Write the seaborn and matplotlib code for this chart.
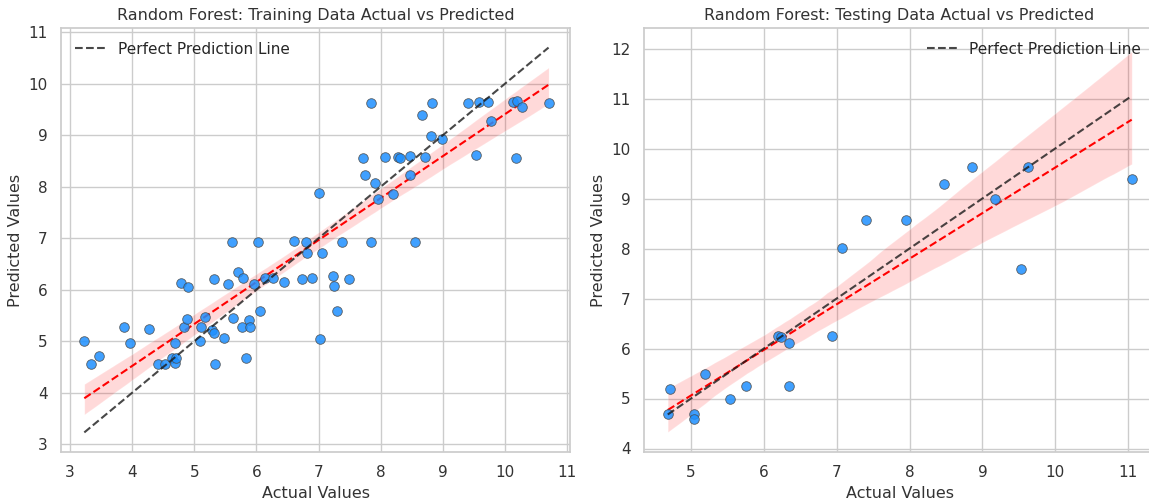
import numpy as np
import pandas as pd
import matplotlib
matplotlib.use("Agg")
import matplotlib.pyplot as plt
import seaborn as sns

# Training set: actual vs predicted
train_actual = [3.23, 3.34, 3.46, 3.87, 3.97, 4.27, 4.42, 4.53, 4.64, 4.69, 4.70, 4.69,
                4.79, 4.90, 4.84, 4.88, 5.09, 5.11, 5.18, 5.31, 5.29, 5.31, 5.34, 5.47,
                5.55, 5.60, 5.63, 5.71, 5.79, 5.77, 5.88, 5.90, 5.83, 5.96, 6.03, 6.06,
                6.14, 6.27, 6.44, 6.61, 6.73, 6.79, 6.81, 6.90, 7.05, 7.37, 7.85, 8.55,
                7.23, 7.25, 7.49, 7.29, 7.03, 7.85, 8.82, 9.40, 9.58, 9.73, 10.12, 10.20,
                10.27, 10.70, 8.67, 9.77, 8.81, 8.99, 7.72, 8.07, 8.27, 8.31, 8.47, 8.71,
                9.53, 10.17, 7.74, 7.91, 7.95, 8.20, 8.47, 7.00]
train_pred = [5.01, 4.56, 4.71, 5.28, 4.97, 5.24, 4.56, 4.56, 4.67, 4.57, 4.67, 4.97,
              6.13, 6.05, 5.28, 5.43, 5.01, 5.27, 5.47, 6.21, 5.22, 5.16, 4.56, 5.06,
              6.11, 6.93, 5.45, 6.34, 6.22, 5.28, 5.41, 5.28, 4.68, 6.11, 6.93, 5.58,
              6.22, 6.22, 6.15, 6.94, 6.21, 6.93, 6.71, 6.22, 6.71, 6.92, 6.93, 6.93,
              6.27, 6.07, 6.20, 5.58, 5.04, 9.63, 9.63, 9.63, 9.65, 9.65, 9.65, 9.66,
              9.54, 9.63, 9.39, 9.28, 8.99, 8.92, 8.55, 8.57, 8.57, 8.56, 8.60, 8.58,
              8.62, 8.56, 8.23, 8.07, 7.76, 7.86, 8.23, 7.87]

# Test set: actual vs predicted
test_actual = [4.68, 4.71, 5.04, 5.04, 5.19, 5.54, 5.76, 6.20, 6.24, 6.35, 6.35,
               6.94, 7.07, 9.53, 7.40, 7.95, 8.47, 8.86, 9.18, 9.63, 11.05]
test_pred = [4.70, 5.20, 4.70, 4.59, 5.49, 5.00, 5.25, 6.25, 6.23, 6.12, 5.25,
             6.25, 8.02, 7.60, 8.57, 8.57, 9.30, 9.63, 8.99, 9.63, 9.40]

train_df = pd.DataFrame({"Actual": train_actual, "Predicted": train_pred})
test_df = pd.DataFrame({"Actual": test_actual, "Predicted": test_pred})

sns.set_theme(style="whitegrid")
plt.rcParams["font.family"] = ["DejaVu Sans"]

W, H = 1149, 500
fig = plt.figure(figsize=(W / 100, H / 100), dpi=100)
ax1 = fig.add_axes([61 / W, 48 / H, 509 / W, 424 / H])
ax2 = fig.add_axes([644 / W, 48 / H, 511 / W, 424 / H])

point_color = "#1e90ff"


def draw_panel(ax, df, title, legend_loc):
    sns.scatterplot(data=df, x="Actual", y="Predicted", ax=ax, color=point_color,
                    edgecolor="#4a4a4a", linewidth=0.6, s=48, alpha=0.85, zorder=3)
    lo, hi = df["Actual"].min(), df["Actual"].max()
    ax.plot([lo, hi], [lo, hi], "k--", lw=1.5, alpha=0.8,
            label="Perfect Prediction Line", zorder=4)
    sns.regplot(data=df, x="Actual", y="Predicted", ax=ax, scatter=False,
                color="red", seed=3, line_kws={"linestyle": "--", "lw": 1.5})
    ax.set_title(title, fontsize=11.5, color="#333333")
    ax.set_xlabel("Actual Values", fontsize=11.5, color="#333333")
    ax.set_ylabel("Predicted Values", fontsize=11.5, color="#333333")
    ax.tick_params(labelsize=11, colors="#333333")
    ax.legend(loc=legend_loc, frameon=False, fontsize=11)


draw_panel(ax1, train_df, "Random Forest: Training Data Actual vs Predicted", "upper left")
draw_panel(ax2, test_df, "Random Forest: Testing Data Actual vs Predicted", "upper right")

ax1.set_xlim(2.855, 11.045)
ax1.set_ylim(2.85, 11.08)
ax1.set_xticks(range(3, 12))
ax1.set_yticks(range(3, 12))
ax2.set_xlim(4.354, 11.37)
ax2.set_ylim(3.93, 12.41)
ax2.set_xticks(range(5, 12))
ax2.set_yticks(range(4, 13))

fig.savefig("out.png", dpi=100)
